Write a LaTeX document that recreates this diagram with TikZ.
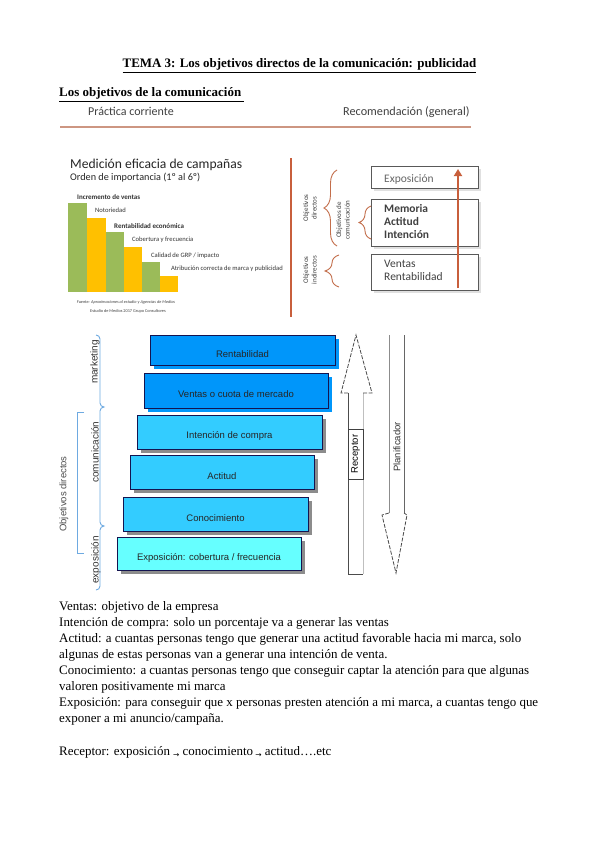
\documentclass[tikz,border=0pt]{standalone}
\usepackage{fontspec}
\setmainfont{Liberation Serif}
\newfontfamily\carl{Carlito}
\newfontfamily\arialf{Liberation Sans}
\newfontfamily\dejavu{DejaVu Sans}
\usetikzlibrary{decorations.pathreplacing,arrows.meta,shadows}
\definecolor{orline}{RGB}{200,95,60}
\definecolor{salmonl}{RGB}{205,150,130}
\definecolor{brorange}{RGB}{195,110,75}
\definecolor{bluebr}{RGB}{110,170,225}
\definecolor{bargreen}{RGB}{155,187,89}
\definecolor{baryellow}{RGB}{255,192,0}
\definecolor{boxblue}{RGB}{0,150,250}
\definecolor{boxcyan}{RGB}{51,204,255}
\definecolor{boxaqua}{RGB}{102,255,255}
\definecolor{boxedge}{RGB}{20,20,80}
\definecolor{txtgray}{RGB}{64,64,64}
\newcommand\sarr{{\dejavu\fontsize{7.5}{7.5}\selectfont\raisebox{-2pt}{→}}}
\begin{document}
\begin{tikzpicture}[x=1pt,y=-1pt,
  body/.style={anchor=base west,inner sep=0,font=\fontsize{12.95}{15}\selectfont},
  panel/.style={anchor=base west,inner sep=0,font=\carl\fontsize{11.5}{13}\selectfont,text=txtgray},
  barlbl/.style={anchor=base west,inner sep=0,font=\carl\fontsize{6.6}{7}\selectfont,text=black!80},
  barlblb/.style={barlbl,font=\carl\bfseries\fontsize{7}{7}\selectfont},
  rotlbl/.style={rotate=90,align=center,inner sep=0,font=\carl\fontsize{7}{8.5}\selectfont,text=txtgray},
  recbox/.style={draw=black!65,line width=1.3pt,fill=white,drop shadow={shadow xshift=2pt,shadow yshift=-2pt,fill=black!12,opacity=1},anchor=north west,inner sep=0},
  brc/.style={draw=brorange,line width=0.9pt,decorate},
  stepbox/.style={draw=boxedge,line width=0.7pt,inner sep=0,anchor=center},
  steplbl/.style={font=\arialf\fontsize{9.5}{11}\selectfont,text=black!85,inner sep=0},
  sidelbl/.style={rotate=90,inner sep=0,font=\arialf\fontsize{10}{12}\selectfont,text=black!80},
  bluepath/.style={draw=bluebr,line width=0.9pt}
]
\useasboundingbox (0,0) rectangle (599,848);
\fill[white] (0,0) rectangle (599,848);

% titles
\node[anchor=base,inner sep=0,font=\bfseries\fontsize{12.95}{15}\selectfont] (title) at (299.5,68)
  {\underline{TEMA 3: Los objetivos directos de la comunicación: publicidad}};
\node[body,font=\bfseries\fontsize{12.95}{15}\selectfont] (head) at (59,97)
  {\underline{Los objetivos de la comunicación\ }};

% top panel
\node[panel,font=\carl\fontsize{12}{13}\selectfont] (prac) at (88,116) {Práctica corriente};
\node[panel,font=\carl\fontsize{12.2}{13}\selectfont] (reco) at (343,116) {Recomendación (general)};
\coordinate (ul1) at (60,127); \coordinate (ul2) at (471,127);
\draw[salmonl,line width=1.3pt] (ul1) -- (ul2);
\coordinate (vl1) at (291,158); \coordinate (vl2) at (291,317);
\draw[orline,line width=1.4pt] (vl1) -- (vl2);

% chart
\node[anchor=base west,inner sep=0,font=\carl\fontsize{13.6}{15}\selectfont,text=black!85] (ctitle) at (70,168) {Medición eficacia de campañas};
\node[anchor=base west,inner sep=0,font=\carl\fontsize{10.2}{11}\selectfont,text=black!85] (csub) at (70,180) {Orden de importancia (1º al 6º)};
\fill[bargreen] (68,203) rectangle (87,292);
\fill[baryellow] (87,218) rectangle (106,292);
\fill[bargreen] (106,232) rectangle (124,292);
\fill[baryellow] (124,247) rectangle (142,292);
\fill[bargreen] (142,262) rectangle (160,292);
\fill[baryellow] (160,276) rectangle (178,292);
\node[barlblb] (b1) at (77,199.5) {Incremento de ventas};
\node[barlbl] (b2) at (95,212.5) {Notoriedad};
\node[barlblb] (b3) at (114,228.5) {Rentabilidad económica};
\node[barlbl] (b4) at (132,241.5) {Cobertura y frecuencia};
\node[barlbl] (b5) at (151,257.5) {Calidad de GRP / impacto};
\node[barlbl] (b6) at (171,270.5) {Atribución correcta de marca y publicidad};
\node[inner sep=0,font=\carl\itshape\fontsize{4.3}{5}\selectfont,text=black!75] (src1) at (126,302) {Fuente: Aproximaciones al estudio y Agencias de Medios};
\node[inner sep=0,font=\carl\fontsize{4.3}{5}\selectfont,text=black!75] (src2) at (128,311) {Estudio de Medios 2017 Grupo Consultores};

% right panel
\node[recbox,minimum width=107,minimum height=22] (bx1) at (371,166) {};
\node[recbox,minimum width=107,minimum height=47] (bx2) at (371,199) {};
\node[recbox,minimum width=107,minimum height=36] (bx3) at (371,254) {};
\node[panel,text=black!60] (t1) at (384,182) {Exposición};
\node[panel,font=\carl\bfseries\fontsize{11.5}{13}\selectfont] (t2) at (384,212) {Memoria};
\node[panel,font=\carl\bfseries\fontsize{11.5}{13}\selectfont] (t3) at (384,225) {Actitud};
\node[panel,font=\carl\bfseries\fontsize{11.5}{13}\selectfont] (t4) at (384,238.5) {Intención};
\node[panel] (t5) at (384,267.5) {Ventas};
\node[panel] (t6) at (384,280.5) {Rentabilidad};
\coordinate (ar1) at (458,288); \coordinate (ar2) at (458,169);
\draw[orline,line width=1.9pt,-{Triangle[length=7pt,width=8pt]}] (ar1) -- (ar2);
\coordinate (bA1) at (337,246); \coordinate (bA2) at (337,170);
\draw[brc,decoration={brace,amplitude=13pt}] (bA1) -- (bA2);
\coordinate (bB1) at (371,239); \coordinate (bB2) at (371,206);
\draw[brc,decoration={brace,amplitude=12pt}] (bB1) -- (bB2);
\coordinate (bC1) at (339,287); \coordinate (bC2) at (339,255);
\draw[brc,decoration={brace,amplitude=14pt}] (bC1) -- (bC2);
\node[rotlbl] (r1) at (310,208) {Objetivos\\directos};
\node[rotlbl] (r2) at (343,220) {Objetivos de\\comunicación};
\node[rotlbl] (r3) at (310,270) {Objetivos\\indirectos};

% bottom diagram
\node[stepbox,fill=boxblue,minimum width=185,minimum height=30,
  drop shadow={shadow xshift=4pt,shadow yshift=-4pt,fill=boxblue,opacity=1},
  label={[steplbl,yshift=-4pt]center:Rentabilidad}] (s1) at (242.5,350) {};
\node[stepbox,fill=boxblue,minimum width=184,minimum height=35,
  drop shadow={shadow xshift=4pt,shadow yshift=-4pt,fill=boxblue,opacity=1},
  label={[steplbl,yshift=-4pt]center:Ventas o cuota de mercado}] (s2) at (236,390.5) {};
\node[stepbox,fill=boxcyan,minimum width=185,minimum height=34,
  drop shadow={shadow xshift=4pt,shadow yshift=-4pt,fill=black!45,opacity=1},
  label={[steplbl,yshift=-4pt]center:Intención de compra}] (s3) at (229.5,432) {};
\node[stepbox,fill=boxcyan,minimum width=184,minimum height=34,
  drop shadow={shadow xshift=4pt,shadow yshift=-4pt,fill=black!45,opacity=1},
  label={[steplbl,yshift=-4pt]center:Actitud}] (s4) at (222,472) {};
\node[stepbox,fill=boxcyan,minimum width=185,minimum height=34,
  drop shadow={shadow xshift=4pt,shadow yshift=-4pt,fill=black!45,opacity=1},
  label={[steplbl,yshift=-4pt]center:Conocimiento}] (s5) at (215.5,514) {};
\node[stepbox,fill=boxaqua,minimum width=184,minimum height=33,
  drop shadow={shadow xshift=4pt,shadow yshift=-4pt,fill=black!45,opacity=1},
  label={[steplbl,yshift=-4pt]center:Exposición: cobertura / frecuencia}] (s6) at (209,553.5) {};

% left labels
\node[sidelbl] (m1) at (95,362) {marketing};
\node[sidelbl] (m2) at (95,452) {comunicación};
\node[sidelbl] (m3) at (96,560) {exposición};
\node[sidelbl,font=\arialf\fontsize{9.5}{11}\selectfont,text=black!70] (m4) at (64,494) {Objetivos directos};
\coordinate (k1) at (84,412); \coordinate (k2) at (77,412); \coordinate (k3) at (77,553); \coordinate (k4) at (84,553);
\draw[bluepath] (k1) -- (k2) -- (k3) -- (k4);
\coordinate (q0) at (96,335);
\draw[bluepath] (q0) to[out=0,in=90] (100,339) -- (100,403) to[out=-90,in=180] (104,407)
  to[out=180,in=90] (100,411) -- (100,522) to[out=-90,in=180] (104,526)
  to[out=180,in=90] (100,530) -- (100,586) to[out=-90,in=0] (96,590);

% receptor arrow
\coordinate (ra1) at (348,393); \coordinate (ra2) at (348,574); \coordinate (ra3) at (363,574);
\coordinate (ra4) at (363,393); \coordinate (ra5) at (341,393); \coordinate (ra6) at (356,335); \coordinate (ra7) at (372,393);
\draw[black!70,line width=0.9pt] (ra1) -- (ra2) -- (ra3);
\draw[black!25,line width=0.9pt] (ra3) -- (ra4);
\draw[black!70,line width=0.8pt,dash pattern=on 4pt off 1.5pt] (ra1) -- (ra5) -- (ra6) -- (ra7) -- (ra4);
\node[draw=black!75,line width=0.8pt,rotate=90,minimum width=50,minimum height=15,inner sep=0,fill=white,font=\arialf\fontsize{9.5}{11}\selectfont] (rec) at (355.5,454) {Receptor};

% planificador arrow
\coordinate (pa1) at (389,335); \coordinate (pa2) at (389,513); \coordinate (pa3) at (404,335); \coordinate (pa4) at (404,513);
\coordinate (pa5) at (382,515); \coordinate (pa6) at (396,573); \coordinate (pa7) at (407,515);
\draw[black!45,line width=0.9pt] (pa1) -- (pa2);
\draw[black!60,line width=0.9pt] (pa3) -- (pa4);
\draw[black!70,line width=0.8pt,dash pattern=on 4pt off 1.5pt] (pa2) -- (pa5) -- (pa6) -- (pa7) -- (pa4);
\node[sidelbl,font=\arialf\fontsize{9.5}{11}\selectfont] (plan) at (397,447) {Planificador};

% body text
\node[body] (l1) at (59,610) {Ventas: objetivo de la empresa};
\node[body] (l2) at (59,626) {Intención de compra: solo un porcentaje va a generar las ventas};
\node[body] (l3) at (59,642) {Actitud: a cuantas personas tengo que generar una actitud favorable hacia mi marca, solo};
\node[body] (l4) at (59,658) {algunas de estas personas van a generar una intención de venta.};
\node[body] (l5) at (59,674) {Conocimiento: a cuantas personas tengo que conseguir captar la atención para que algunas};
\node[body] (l6) at (59,690) {valoren positivamente mi marca};
\node[body] (l7) at (59,706) {Exposición: para conseguir que x personas presten atención a mi marca, a cuantas tengo que};
\node[body] (l8) at (59,722) {exponer a mi anuncio/campaña.};
\node[body] (l9) at (59,755) {Receptor: exposición \sarr{} conocimiento\,\sarr{} actitud….etc};
\end{tikzpicture}
\end{document}
